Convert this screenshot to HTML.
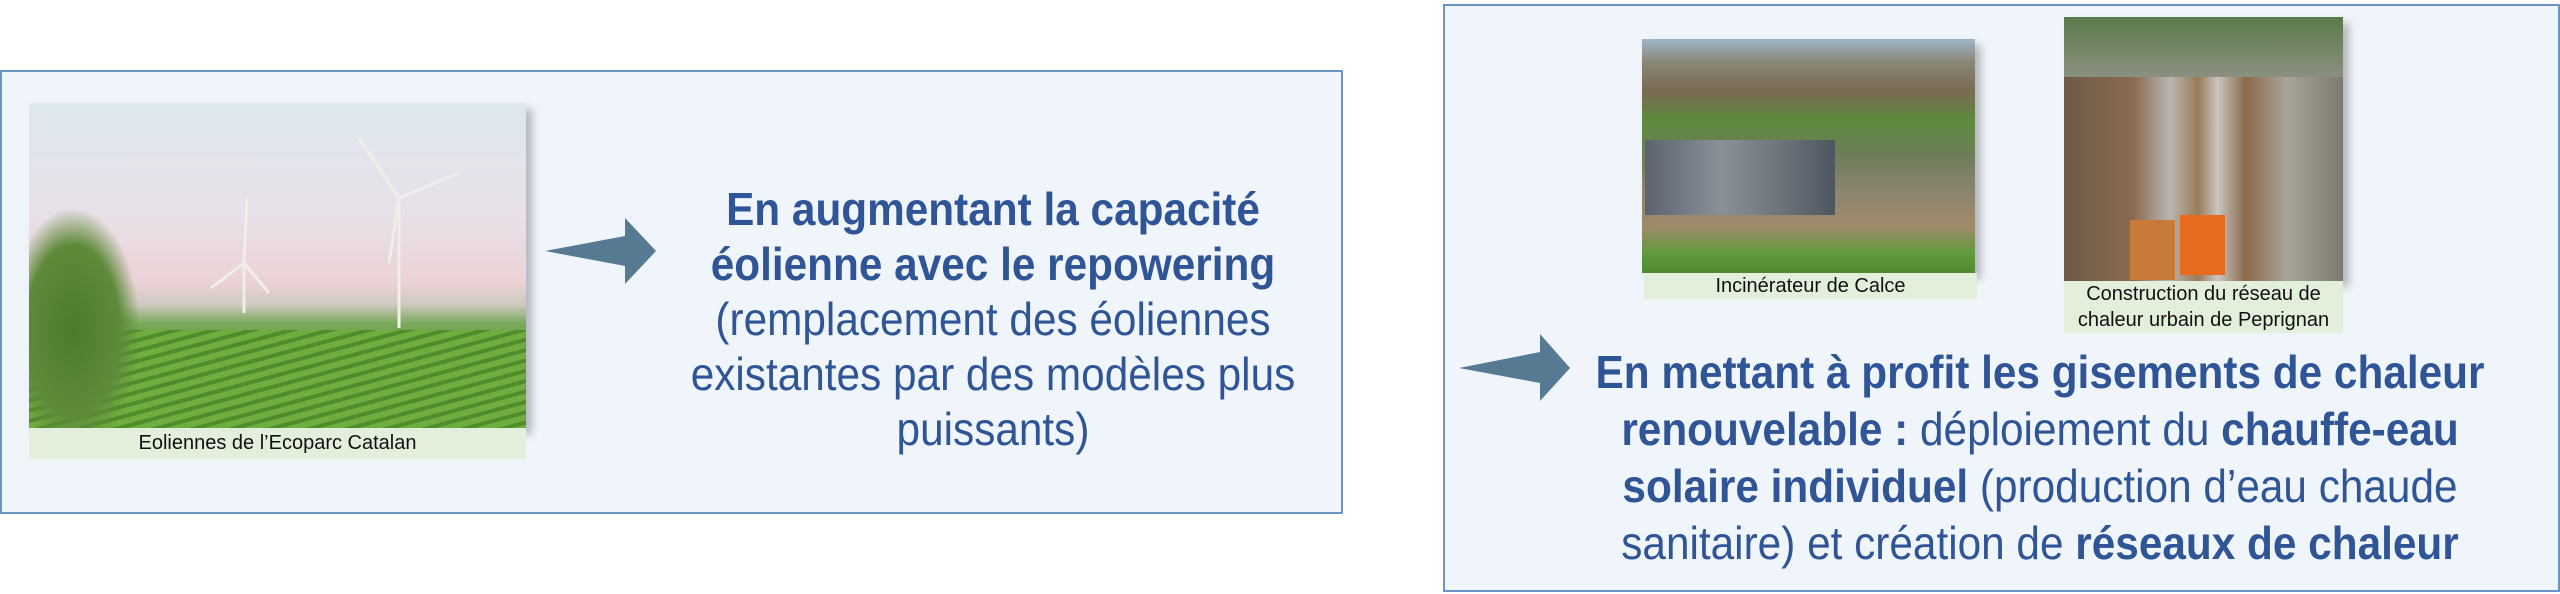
<!DOCTYPE html>
<html><head><meta charset="utf-8"><style>
body{margin:0;width:2560px;height:594px;background:#fff;position:relative;overflow:hidden;font-family:"Liberation Sans",sans-serif}
.box{position:absolute;background:#f0f5fb;border:2px solid #6b93c6;box-sizing:border-box}
.abs{position:absolute}
.cap{position:absolute;background:#e2efda;color:#111;font-size:20px;text-align:center;line-height:26px}
.txt{position:absolute;color:#2f5597;text-align:center;font-size:46px;line-height:57px;transform:scaleX(0.92);transform-origin:center top;white-space:nowrap}
b{font-weight:bold}
</style></head><body>
<div class="box" style="left:0;top:70px;width:1343px;height:444px"></div>
<div class="box" style="left:1443px;top:4px;width:1117px;height:588px"></div>

<!-- left photo -->
<div class="abs" style="left:29px;top:103px;width:497px;height:325px;background:linear-gradient(180deg,#dde8ef 0%,#e9e0e8 35%,#ecd2d6 55%,#cfc9c0 62%,#7aa85a 68%,#5f9a3c 80%,#4f8a30 100%);box-shadow:6px 6px 8px rgba(0,0,0,.25)"></div>
<div class="abs" style="left:29px;top:330px;width:497px;height:98px;background:repeating-linear-gradient(165deg,#6fae3e 0 6px,#4e8c2c 6px 10px)"></div>
<div class="abs" style="left:29px;top:210px;width:110px;height:218px;background:radial-gradient(ellipse at 40% 55%,#4e7a2e 0%,#5f8a3a 50%,rgba(90,130,60,0) 72%)"></div>
<svg class="abs" style="left:29px;top:103px" width="497" height="325">
<g stroke="#f0eee8" stroke-width="3"><line x1="370" y1="95" x2="370" y2="225"/><line x1="370" y1="95" x2="330" y2="35"/><line x1="370" y1="95" x2="430" y2="70"/><line x1="370" y1="95" x2="360" y2="160"/>
<line x1="215" y1="160" x2="215" y2="210"/><line x1="215" y1="160" x2="218" y2="95"/><line x1="215" y1="160" x2="182" y2="185"/><line x1="215" y1="160" x2="240" y2="190"/></g>
</svg>
<div class="cap" style="left:29px;top:428px;width:497px;height:31px;line-height:31px">Eoliennes de l’Ecoparc Catalan</div>

<!-- arrow 1 -->
<svg class="abs" style="left:540px;top:212px" width="120" height="80"><polygon points="5,39 85,24 85,6 116,39 85,72 85,54" fill="#557a92"/></svg>

<div class="txt" style="left:593px;top:182px;width:800px;line-height:55px"><b>En augmentant la capacité<br>éolienne avec le repowering</b><br>(remplacement des éoliennes<br>existantes par des modèles plus<br>puissants)</div>

<!-- incinerator -->
<div class="abs" style="left:1642px;top:39px;width:333px;height:234px;background:linear-gradient(180deg,#9fb6c9 0%,#8a8676 10%,#7a6a55 22%,#5e8a3c 35%,#6d7d5a 50%,#8c8470 65%,#a08a6a 80%,#5f9a3c 92%,#4f8a30 100%);box-shadow:6px 6px 8px rgba(0,0,0,.25)"></div>
<div class="abs" style="left:1645px;top:140px;width:190px;height:75px;background:linear-gradient(90deg,#5a6470,#8a9098 40%,#6e757d 70%,#4e5660)"></div>
<div class="cap" style="left:1644px;top:273px;width:333px;height:26px">Incinérateur de Calce</div>

<!-- pipes -->
<div class="abs" style="left:2064px;top:17px;width:279px;height:264px;background:linear-gradient(90deg,#6d5a45 0%,#8a6b50 25%,#b8b6b0 38%,#9a7a58 48%,#c8c6c0 55%,#8a6a4c 65%,#a9a49a 80%,#7c7a70 100%);box-shadow:6px 6px 8px rgba(0,0,0,.25)"></div>
<div class="abs" style="left:2064px;top:17px;width:279px;height:60px;background:linear-gradient(180deg,#5a7a4a,#8a9080)"></div>
<div class="abs" style="left:2180px;top:215px;width:45px;height:60px;background:#e86a1e"></div>
<div class="abs" style="left:2130px;top:220px;width:45px;height:60px;background:#c87a3a"></div>
<div class="cap" style="left:2064px;top:281px;width:279px;height:52px">Construction du réseau de<br>chaleur urbain de Peprignan</div>

<!-- arrow 2 -->
<svg class="abs" style="left:1455px;top:330px" width="120" height="75"><polygon points="4,38 85,22 85,4 115,38 85,71 85,53" fill="#557a92"/></svg>

<div class="txt" style="left:1440px;top:344px;width:1200px"><b>En mettant à profit les gisements de chaleur<br>renouvelable :</b> déploiement du <b>chauffe-eau<br>solaire individuel</b> (production d’eau chaude<br>sanitaire) et création de <b>réseaux de chaleur</b></div>
</body></html>
